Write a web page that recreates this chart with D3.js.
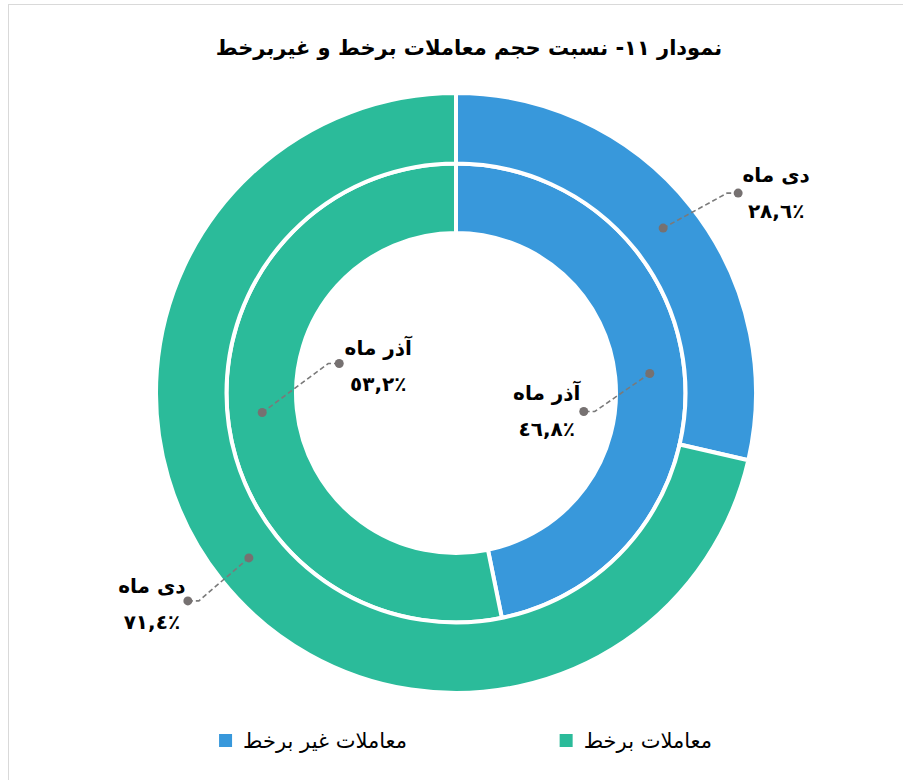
<!DOCTYPE html>
<html><head><meta charset="utf-8">
<script src="https://cdn.jsdelivr.net/npm/d3@7"></script>
<style>
html,body{margin:0;padding:0;background:#fff;}
svg{display:block;}
text{font-family:"DejaVu Sans",sans-serif;}
</style></head>
<body><svg id="chart" width="903" height="780"></svg>
<script>
// ---- data ----
const seriesNames = ["معاملات غیر برخط", "معاملات برخط"];
const rings = ["آذر ماه", "دی ماه"];            // inner, outer
const azarValues = [46.8, 53.2];
const deyValues  = [28.6, 71.4];
const valueLabels = {azar: ["٤٦,٨٪", "٥٣,٢٪"], dey: ["٢٨,٦٪", "٧١,٤٪"]};
const title = "نمودار ۱۱- نسبت حجم معاملات برخط و غیربرخط";
const legendOrder = [1, 0];

// ---- layout ----
const W = 903, H = 780, cx = 456, cy = 393;
const colors = d3.scaleOrdinal().domain(seriesNames).range(["#3898db", "#2bbb9a"]);
const svg = d3.select("#chart");

svg.append("rect").attr("x", 8.5).attr("y", 4.5).attr("width", 1200).attr("height", 1200)
  .attr("fill", "none").attr("stroke", "#d9d9d9").attr("stroke-width", 1);

svg.append("text").attr("x", 469).attr("y", 55).attr("text-anchor", "middle")
  .attr("direction", "rtl").attr("font-size", 21).attr("font-weight", "bold")
  .attr("fill", "#000").text(title);

const pie = d3.pie().sort(null).value(d => d);
const g = svg.append("g").attr("transform", `translate(${cx},${cy})`);

const ringDefs = [
  {name: rings[0], values: azarValues, labels: valueLabels.azar, r0: 160, r1: 229.5,
   // label offsets relative to centroid: end dot, then text center
   lab: [{ex: -66, ey: 38, tx: -103, ty: 38}, {ex: 77, ey: -49, tx: 116, ty: -47}]},
  {name: rings[1], values: deyValues, labels: valueLabels.dey, r0: 229.5, r1: 300,
   lab: [{ex: 75, ey: -35, tx: 113, ty: -35}, {ex: -61, ey: 43, tx: -97, ty: 46}]}
];

ringDefs.forEach(rd => {
  const arc = d3.arc().innerRadius(rd.r0).outerRadius(rd.r1);
  const arcs = pie(rd.values);
  g.selectAll(null).data(arcs).enter().append("path")
    .attr("d", arc)
    .attr("fill", (d, i) => colors(seriesNames[i]))
    .attr("stroke", "#fff").attr("stroke-width", 4);
  rd.arcs = arcs; rd.arc = arc;
});

ringDefs.forEach(rd => {
  rd.arcs.forEach((d, i) => {
    const c = rd.arc.centroid(d);
    const L = rd.lab[i];
    const ex = c[0] + L.ex, ey = c[1] + L.ey;
    const hx = ex + (L.ex > 0 ? -11 : 11);
    g.append("path")
      .attr("d", `M${c[0]},${c[1]}L${hx},${ey}L${ex},${ey}`)
      .attr("fill", "none").attr("stroke", "#7a7a7a").attr("stroke-width", 1.6)
      .attr("stroke-dasharray", "5,3");
    g.append("circle").attr("cx", c[0]).attr("cy", c[1]).attr("r", 4.5).attr("fill", "#767171");
    g.append("circle").attr("cx", ex).attr("cy", ey).attr("r", 4.5).attr("fill", "#767171");
    const t = g.append("text").attr("text-anchor", "middle").attr("font-weight", "bold")
      .attr("font-size", 20).attr("fill", "#000");
    const tx = c[0] + L.tx, ty = c[1] + L.ty;
    t.append("tspan").attr("x", tx).attr("y", ty - 11).attr("direction", "rtl").text(rd.name);
    t.append("tspan").attr("x", tx).attr("y", ty + 25).attr("direction", "rtl").text(rd.labels[i]);
  });
});

// legend
const legendX = [712, 407];
legendOrder.forEach((si, k) => {
  const name = seriesNames[si];
  const lg = svg.append("g");
  const tx = legendX[k];
  const t = lg.append("text").attr("x", tx).attr("y", 748).attr("text-anchor", "start")
    .attr("direction", "rtl").attr("font-size", 21).attr("fill", "#000").text(name);
  const bb = t.node().getBBox();
  lg.append("rect").attr("x", bb.x - 24).attr("y", 734).attr("width", 13).attr("height", 13)
    .attr("fill", colors(name));
});
</script></body></html>
